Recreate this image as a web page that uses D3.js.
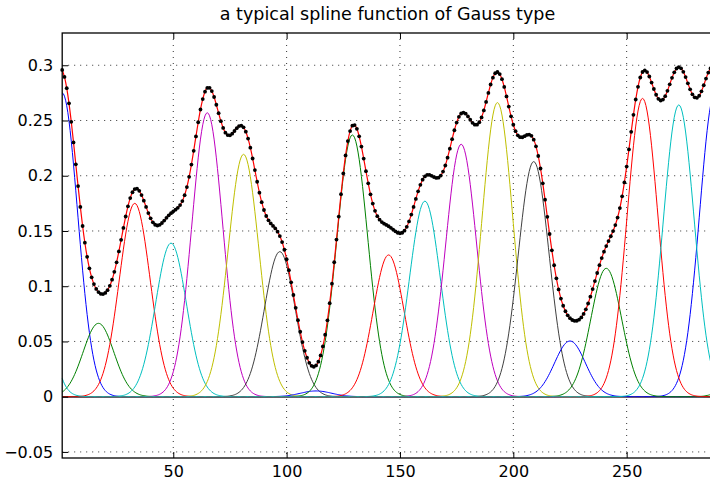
<!DOCTYPE html>
<html>
<head>
<meta charset="utf-8">
<script src="https://cdn.jsdelivr.net/npm/d3@7"></script>
<style>
  body { margin: 0; background: #fff; }
  text { font-family: "DejaVu Sans", sans-serif; }
</style>
</head>
<body>
<div id="chart"></div>
<script>
// gauss bumps: centres, heights, colours (matlab colour order)
var centers = [1, 17, 33, 49, 65, 81, 97, 113, 129, 145, 161, 177, 193, 209, 225, 241, 257, 273];
var amplitudes = [0.275, 0.0664, 0.175, 0.139, 0.257, 0.2194, 0.1313, 0.0052, 0.2369,
                  0.1283, 0.177, 0.2285, 0.2662, 0.2128, 0.0504, 0.1162, 0.270, 0.2641];
var colors = ["#0000ff", "#008000", "#ff0000", "#00bfbf", "#bf00bf", "#bfbf00", "#404040"];
var sigma = 6.8;
var period = 288;
var xTicks = [50, 100, 150, 200, 250];
var yTicks = [-0.05, 0, 0.05, 0.1, 0.15, 0.2, 0.25, 0.3];

var W = 710, H = 480;
var margin = {left: 62.2, top: 33, right: -2.8, bottom: 22};
var width = W - margin.left - margin.right;
var height = H - margin.top - margin.bottom;

var x = d3.scaleLinear().domain([1, 288]).range([0, width]);
var y = d3.scaleLinear().domain([-0.0555, 0.3292]).range([height, 0]);

function bump(c, a, t) {
  var s = 0;
  for (var k = -1; k <= 1; k++) {
    var d = t - c - k * period;
    s += Math.exp(-d * d / (2 * sigma * sigma));
  }
  return a * s;
}

var svg = d3.select("#chart").append("svg")
  .attr("width", W)
  .attr("height", H);

svg.append("text")
  .attr("x", margin.left + width / 2)
  .attr("y", 20)
  .attr("text-anchor", "middle")
  .style("font-size", "17.5px")
  .text("a typical spline function of Gauss type");

var g = svg.append("g")
  .attr("transform", "translate(" + margin.left + "," + margin.top + ")");

// dotted grid
g.selectAll(".gx").data(xTicks).enter().append("line")
  .attr("x1", d => x(d)).attr("x2", d => x(d))
  .attr("y1", 0).attr("y2", height)
  .attr("stroke", "#333").attr("stroke-width", 1)
  .attr("stroke-dasharray", "1,5");
g.selectAll(".gy").data(yTicks).enter().append("line")
  .attr("x1", 0).attr("x2", width)
  .attr("y1", d => y(d)).attr("y2", d => y(d))
  .attr("stroke", "#333").attr("stroke-width", 1)
  .attr("stroke-dasharray", "1,5");

// the individual gauss functions
var fine = d3.range(1, 288.01, 0.5);
var line = d3.line()
  .x(d => x(d[0]))
  .y(d => y(d[1]));

centers.forEach(function(c, i) {
  var pts = fine.map(t => [t, bump(c, amplitudes[i], t)]);
  g.append("path")
    .datum(pts)
    .attr("fill", "none")
    .attr("stroke", colors[i % colors.length])
    .attr("stroke-width", 1)
    .attr("d", line);
});

// spline = sum of bumps, sampled at integer points
var samples = d3.range(1, 289).map(function(t) {
  var s = 0;
  centers.forEach(function(c, i) { s += bump(c, amplitudes[i], t); });
  return [t, s];
});

g.append("path")
  .datum(samples)
  .attr("fill", "none")
  .attr("stroke", "#ff0000")
  .attr("stroke-width", 1.2)
  .attr("d", line.curve(d3.curveMonotoneX));

g.selectAll(".dot").data(samples).enter().append("circle")
  .attr("cx", d => x(d[0]))
  .attr("cy", d => y(d[1]))
  .attr("r", 1.9)
  .attr("fill", "#000");

// axes, matlab style: ticks inside, box
var xAxis = d3.axisBottom(x).tickValues(xTicks).tickSize(-6).tickPadding(8);
var yAxis = d3.axisLeft(y).tickValues(yTicks).tickSize(-6).tickPadding(9)
  .tickFormat(d => d < 0 ? "\u2212" + Math.abs(d) : (d === 0 ? "0" : String(d)));

g.append("g")
  .attr("transform", "translate(0," + height + ")")
  .call(xAxis)
  .call(a => a.select(".domain").remove());
g.append("g")
  .call(yAxis)
  .call(a => a.select(".domain").remove());

g.append("g")
  .call(d3.axisTop(x).tickValues(xTicks).tickSize(-6).tickFormat(""))
  .call(a => a.select(".domain").remove());

g.selectAll(".tick text").style("font-size", "16px").attr("fill", "#000");
g.selectAll(".tick line").attr("stroke", "#000");

g.append("rect")
  .attr("x", 0).attr("y", 0)
  .attr("width", width).attr("height", height)
  .attr("fill", "none")
  .attr("stroke", "#000")
  .attr("stroke-width", 1.3);
</script>
</body>
</html>
